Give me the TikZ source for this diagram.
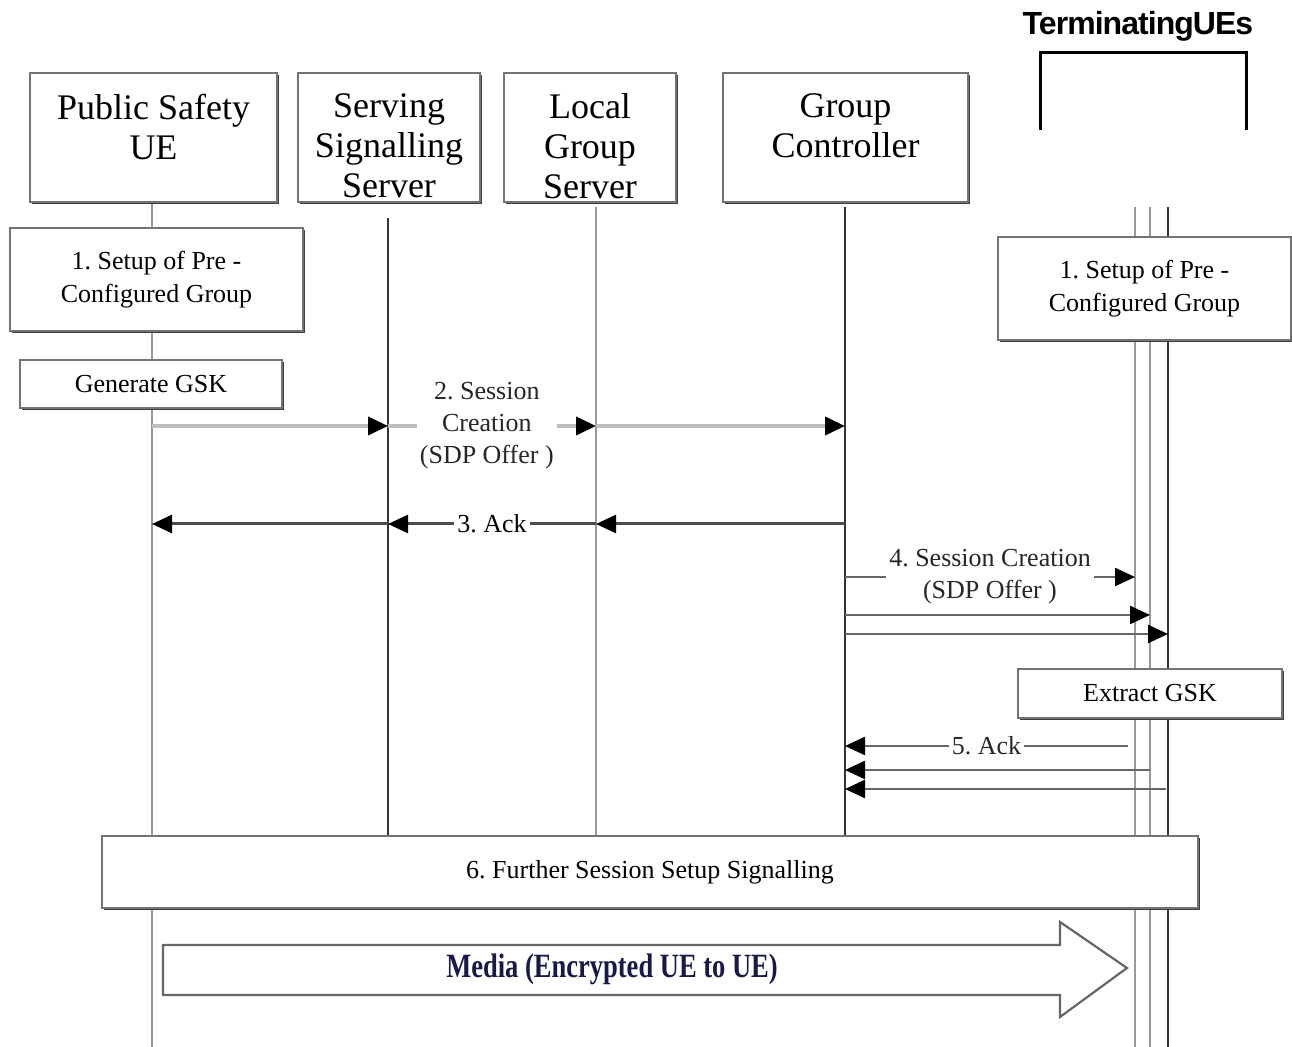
\documentclass[tikz,border=0pt]{standalone}
\usepackage{fontspec}
\setmainfont{Liberation Serif}
\newfontfamily\mediafont[FakeStretch=0.78]{Liberation Serif}
\newfontfamily\uesfont[LetterSpace=-3]{Liberation Sans}
\usepackage{xcolor}
\usetikzlibrary{positioning,calc,shadows,arrows.meta}

\definecolor{medianavy}{RGB}{25,25,72}
\frenchspacing

\tikzset{
  hbox/.style={draw=black!55, fill=white, line width=0.6pt, minimum height=64.5pt,
    drop shadow={shadow xshift=1.2pt, shadow yshift=-1.2pt, fill=black!75, opacity=1}},
  htext/.style={inner sep=0pt, align=center, font=\fontsize{18}{20}\selectfont},
  sbox/.style={draw=black!55, fill=white, line width=0.6pt, align=center,
    font=\fontsize{13}{16.5}\selectfont,
    drop shadow={shadow xshift=1.2pt, shadow yshift=-1.2pt, fill=black!75, opacity=1}},
  life/.style={line width=0.9pt, draw=black!40},
  lifedark/.style={line width=1.1pt, draw=black!80},
  msg/.style={-{Triangle[length=10pt,width=9pt,color=black]}, line width=1.2pt, draw=black!60},
  lbl/.style={fill=white, inner sep=1.5pt, align=center, font=\fontsize{13}{16}\selectfont, text=black!85}
}

\begin{document}
\begin{tikzpicture}[x=0.5pt, y=-0.5pt]
	\useasboundingbox (0,0) rectangle (1292,1047);

	% lifelines
	\coordinate (lu) at (152,202);
	\coordinate (ls) at (388,218);
	\coordinate (ll) at (596,207);
	\coordinate (lc) at (845,207);
	\coordinate (lt1) at (1135,207);
	\coordinate (lt2) at (1150,207);
	\coordinate (lt3) at (1168,207);
	\coordinate (stop) at (0,835);
	\coordinate (bot) at (0,1047);
	\draw[life] (lu) -- (lu |- bot);
	\draw[lifedark] (ls) -- (ls |- stop);
	\draw[life] (ll) -- (ll |- stop);
	\draw[lifedark] (lc) -- (lc |- stop);
	\draw[life] (lt1) -- (lt1 |- bot);
	\draw[life] (lt2) -- (lt2 |- bot);
	\draw[lifedark] (lt3) -- (lt3 |- bot);

	% entities
	\node[hbox, minimum width=123.5pt] (psue) at (153.5,137.5) {};
	\node[hbox, minimum width=91pt] (sss) at (389,137.5) {};
	\node[hbox, minimum width=86pt] (lgs) at (590,137.5) {};
	\node[hbox, minimum width=122.5pt] (gc) at (845.5,137.5) {};
	\node[htext, below=10.5pt of psue.north] (psuet) {Public Safety\\UE};
	\node[htext, below=10.5pt of sss.north] (ssst) {Serving\\Signalling\\Server};
	\node[htext, below=10.5pt of lgs.north] (lgst) {Local\\Group\\Server};
	\node[htext, below=10.5pt of gc.north] (gct) {Group\\Controller};

	\node[font=\uesfont\bfseries\fontsize{16}{16}\selectfont] (tues) at (1138,26) {TerminatingUEs};
	\coordinate (brl) at (1040,130);
	\coordinate (brr) at (1246,130);
	\draw[line width=1.5pt] (brl) -- ++(0,-77) -| (brr);

	% boxes on the lifelines
	\node[sbox, minimum width=146.5pt, minimum height=51.5pt] (setupl) at (156.5,279.5) {1. Setup of Pre -\\Configured Group};
	\node[sbox, minimum width=146.5pt, minimum height=51.5pt] (setupr) at (1144.5,288.5) {1. Setup of Pre -\\Configured Group};
	\node[sbox, minimum width=131pt, minimum height=24pt] (gen) at (151,384) {Generate GSK};
	\node[sbox, minimum width=132pt, minimum height=24.5pt] (extr) at (1150,693.5) {Extract GSK};

	% 2. session creation
	\coordinate (m2) at (0,426);
	\draw[msg, draw=black!25, line width=2pt] (lu |- m2) -- (ls |- m2);
	\draw[msg, draw=black!25, line width=2pt] (ls |- m2) -- node[lbl, pos=0.475] (m2l) {2. Session\\Creation\\(SDP Offer )} (ll |- m2);
	\draw[msg, draw=black!25, line width=2pt] (ll |- m2) -- (lc |- m2);

	% 3. ack
	\coordinate (m3) at (0,524);
	\draw[msg, draw=black!70, line width=1.5pt] (lc |- m3) -- (ll |- m3);
	\draw[msg, draw=black!70, line width=1.5pt] (ll |- m3) -- node[lbl, text=black] (m3l) {3. Ack} (ls |- m3);
	\draw[msg, draw=black!70, line width=1.5pt] (ls |- m3) -- (lu |- m3);

	% 4. session creation
	\coordinate (m4) at (0,577);
	\coordinate (m4b) at (0,615);
	\coordinate (m4c) at (0,634);
	\draw[msg] (lc |- m4) -- node[lbl] (m4l) {4. Session Creation\\(SDP Offer )} (lt1 |- m4);
	\draw[msg] (lc |- m4b) -- (lt2 |- m4b);
	\draw[msg] (lc |- m4c) -- (lt3 |- m4c);

	% 5. ack
	\coordinate (m5) at (1128,746);
	\coordinate (m5b) at (0,770);
	\coordinate (m5c) at (1166,789);
	\draw[msg] (m5) -- node[lbl] (m5l) {5. Ack} (lc |- m5);
	\draw[msg] (lt2 |- m5b) -- (lc |- m5b);
	\draw[msg] (m5c) -- (lc |- m5c);

	% 6. further signalling
	\node[sbox, minimum width=548pt, minimum height=36pt] (further) at (650,872) {6. Further Session Setup Signalling};

	% media
	\draw[black!60, line width=1.1pt, fill=white] (163,945) -- (1060,945) -- (1060,922) -- (1127,968)
		-- (1060,1017) -- (1060,995) -- (163,995) -- cycle;
	\node[font=\mediafont\bfseries\fontsize{17}{17}\selectfont, text=medianavy] (media) at (612,969) {Media (Encrypted UE to UE)};
\end{tikzpicture}
\end{document}
